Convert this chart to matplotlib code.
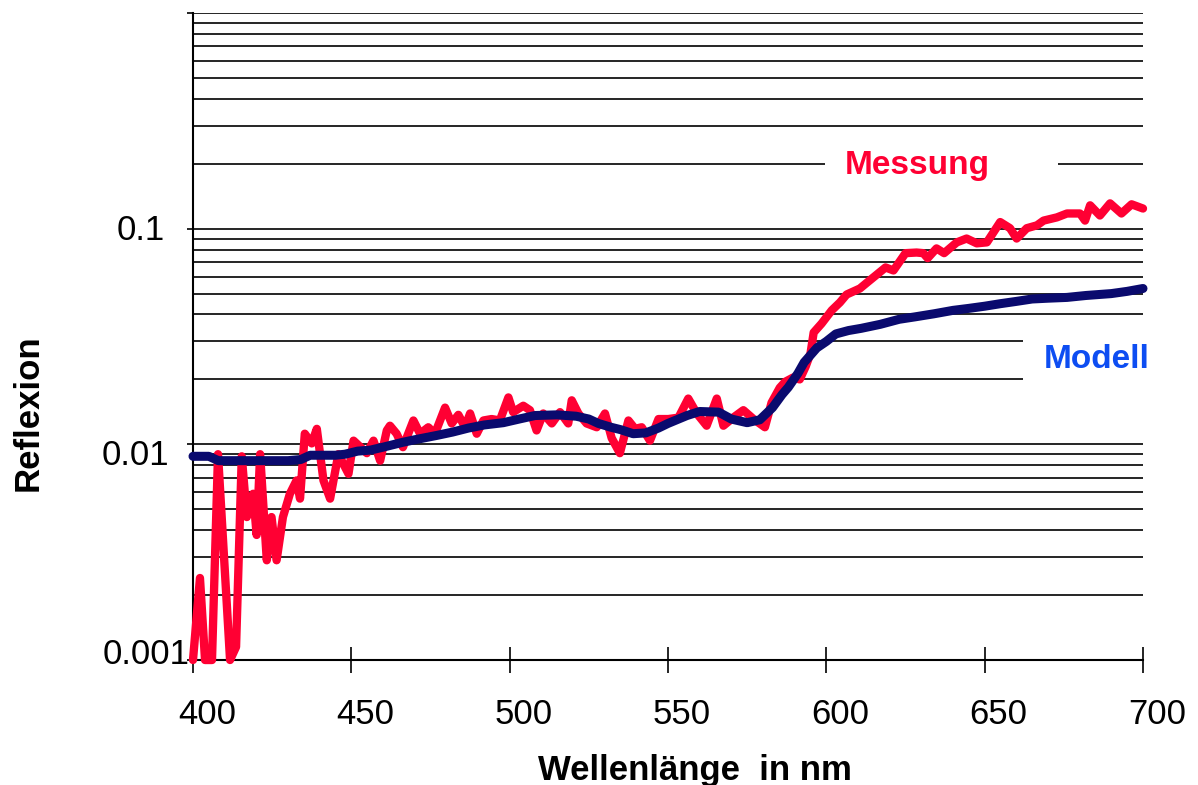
import numpy as np
import matplotlib
matplotlib.use("Agg")
import matplotlib.pyplot as plt
from matplotlib.patches import Rectangle
from matplotlib.transforms import ScaledTranslation
from matplotlib.ticker import LogLocator, NullFormatter

plt.rcParams["font.family"] = ["Liberation Sans", "DejaVu Sans"]

# Messung (gemessene Reflexion)
mess_wl = [400.0, 402.2, 403.8, 406.0, 407.9, 411.7, 413.6, 415.4, 417.0, 419.0,
           420.1, 421.2, 423.3, 424.8, 426.4, 428.4, 430.6, 432.7, 433.8, 435.3,
           437.5, 439.1, 441.2, 443.3, 445.9, 449.1, 450.7, 454.9, 457.0, 459.1,
           461.2, 462.2, 464.3, 466.3, 469.6, 471.7, 474.3, 476.4, 479.6, 481.7,
           483.8, 485.9, 487.5, 489.6, 491.7, 494.3, 496.9, 499.6, 501.1, 504.3,
           506.4, 508.5, 510.6, 513.3, 515.9, 518.5, 519.6, 521.7, 524.3, 527.5,
           530.1, 532.2, 534.8, 537.5, 539.6, 541.7, 544.3, 547.0, 550.1, 553.3,
           556.4, 559.1, 562.2, 565.4, 567.5, 570.6, 573.8, 577.0, 580.6, 582.7,
           585.3, 587.0, 589.5, 591.6, 593.5, 595.0, 596.0, 598.5, 601.7, 604.3,
           606.4, 610.6, 612.7, 615.2, 618.7, 621.2, 625.0, 628.5, 630.6, 632.0,
           634.8, 637.2, 641.2, 644.3, 647.5, 650.7, 654.9, 658.0, 660.1, 663.3,
           666.5, 668.6, 672.8, 676.0, 680.1, 681.7, 683.3, 686.4, 689.6, 693.2,
           696.4, 700.0]
mess_val = [0.0010, 0.0024, 0.0010, 0.0010, 0.0090, 0.0010, 0.00115, 0.0088, 0.0046, 0.0059,
            0.0038, 0.0090, 0.0029, 0.0046, 0.0029, 0.0046, 0.0059, 0.0068, 0.0056, 0.0112,
            0.0101, 0.0118, 0.0068, 0.0056, 0.0090, 0.0073, 0.0104, 0.0091, 0.0104, 0.0084,
            0.0116, 0.0122, 0.0112, 0.0097, 0.0129, 0.0112, 0.0120, 0.0112, 0.0148, 0.0125,
            0.0137, 0.0120, 0.0139, 0.0112, 0.0129, 0.0131, 0.0129, 0.0165, 0.0141, 0.0151,
            0.0144, 0.0116, 0.0139, 0.0125, 0.0141, 0.0125, 0.0160, 0.0139, 0.0125, 0.0120,
            0.0139, 0.0107, 0.0091, 0.0129, 0.0118, 0.0120, 0.0104, 0.0131, 0.0131, 0.0133,
            0.0163, 0.0139, 0.0122, 0.0163, 0.0122, 0.0133, 0.0144, 0.0131, 0.0120, 0.0156,
            0.0183, 0.0195, 0.0204, 0.0200, 0.0230, 0.0264, 0.0330, 0.0363, 0.0418, 0.0455,
            0.0495, 0.0528, 0.0560, 0.0600, 0.0661, 0.0640, 0.0770, 0.0775, 0.0770, 0.0730,
            0.0810, 0.0770, 0.0864, 0.0900, 0.0855, 0.0864, 0.1073, 0.1005, 0.0900, 0.1005,
            0.1036, 0.1090, 0.1128, 0.1176, 0.1176, 0.1090, 0.1283, 0.1151, 0.1310, 0.1176,
            0.1297, 0.1240]

# Modell (berechnete Reflexion)
mod_wl = [400, 405, 408, 415, 420, 425, 430, 434, 437, 440, 445, 448, 452, 456, 460,
          466, 470, 477, 482, 487, 492, 498, 503, 508, 515, 521, 525, 528, 532, 535,
          539, 543, 547, 550, 556, 560, 566, 570, 575, 579, 583, 586, 588, 591, 593,
          597, 600, 603, 607, 611, 617, 623, 628, 634, 640, 645, 650, 655, 660, 665,
          670, 676, 682, 690, 695, 700]
mod_val = [0.0088, 0.0088, 0.0084, 0.0084, 0.0084, 0.0084, 0.0084, 0.0085, 0.0089, 0.0089,
           0.0089, 0.0090, 0.0093, 0.0094, 0.0097, 0.0102, 0.0105, 0.0110, 0.0114, 0.0119,
           0.0123, 0.0126, 0.0131, 0.0136, 0.0137, 0.0135, 0.0131, 0.0125, 0.0120, 0.0117,
           0.0112, 0.0113, 0.0119, 0.0125, 0.0136, 0.0142, 0.0141, 0.0131, 0.0126, 0.0130,
           0.0148, 0.0170, 0.0184, 0.0213, 0.0240, 0.0280, 0.0300, 0.0325, 0.0337, 0.0345,
           0.0360, 0.0380, 0.0390, 0.0403, 0.0418, 0.0427, 0.0437, 0.0449, 0.0460, 0.0472,
           0.0476, 0.0480, 0.0490, 0.0500, 0.0512, 0.0528]

x_ticks = [400, 450, 500, 550, 600, 650, 700]
y_ticks = [0.001, 0.01, 0.1, 1]
y_tick_labels = ["0.001", "0.01", "0.1", ""]

W, H = 1198, 785
fig = plt.figure(figsize=(W / 100, H / 100), dpi=100)
ax = fig.add_axes([193 / W, (H - 660) / H, (1143 - 193) / W, (660 - 13) / H])

ax.set_yscale("log")
ax.set_xlim(400, 700)
ax.set_ylim(0.001, 1)

# Gitterlinien (Haupt- und Nebenteilung)
ax.yaxis.set_minor_locator(LogLocator(base=10, subs=np.arange(2, 10)))
ax.yaxis.set_minor_formatter(NullFormatter())
ax.grid(True, axis="y", which="both", color="black", linewidth=1.2)
ax.set_axisbelow(True)

# Kurven
ax.plot(mess_wl, mess_val, color="#FF0033", linewidth=6, solid_joinstyle="round",
        solid_capstyle="round", zorder=3, clip_on=False)
ax.plot(mod_wl, mod_val, color="#0A0A6E", linewidth=6.5, solid_joinstyle="round",
        solid_capstyle="round", zorder=4, clip_on=False)

# weiße Beschriftungsfelder, die das Gitter unterbrechen
ax.add_patch(Rectangle((599.6, 0.14), 73.6, 0.12, facecolor="white",
                       edgecolor="none", zorder=2))
ax.add_patch(Rectangle((662, 0.017), 60, 0.019, facecolor="white",
                       edgecolor="none", zorder=2, clip_on=False))
ax.text(605.9, 0.18, "Messung", color="#FF0033", fontsize=24, fontweight="bold",
        ha="left", va="baseline", zorder=5)
ax.text(668.5, 0.0226, "Modell", color="#0D4DF2", fontsize=24, fontweight="bold",
        ha="left", va="baseline", zorder=5, clip_on=False)

# Achsen
for s in ["top", "right"]:
    ax.spines[s].set_visible(False)
ax.spines["left"].set_linewidth(1.5)
ax.spines["bottom"].set_linewidth(1.5)

ax.set_xticks(x_ticks)
ax.set_xticklabels([str(t) for t in x_ticks])
ax.tick_params(axis="x", which="major", direction="inout", length=19, width=1.2,
               labelsize=25, pad=18)
ax.set_yticks(y_ticks)
ax.set_yticklabels(y_tick_labels)
ax.tick_params(axis="y", which="major", direction="out", length=4.5, width=1.2,
               labelsize=25, pad=33)
ax.tick_params(axis="y", which="minor", length=0)

for lab in ax.get_xticklabels():
    lab.set_transform(lab.get_transform() + ScaledTranslation(0.14, 0, fig.dpi_scale_trans))

y_offsets = {"0.001": (5.5, 9), "0.01": (-5.5, -8), "0.1": (0, 2)}
for lab in ax.get_yticklabels():
    lab.set_horizontalalignment("center")
    dx, dy = y_offsets.get(lab.get_text(), (0, 0))
    lab.set_transform(lab.get_transform() + ScaledTranslation(dx / 100, dy / 100, fig.dpi_scale_trans))

fig.text(695 / W, 1 - 780 / H, "Wellenlänge  in nm", fontsize=25, fontweight="bold",
         ha="center", va="baseline")
fig.text(28 / W, 1 - 413 / H, "Reflexion", fontsize=25, fontweight="bold",
         ha="center", va="center", rotation=90)

fig.savefig("out.png", dpi=100)
